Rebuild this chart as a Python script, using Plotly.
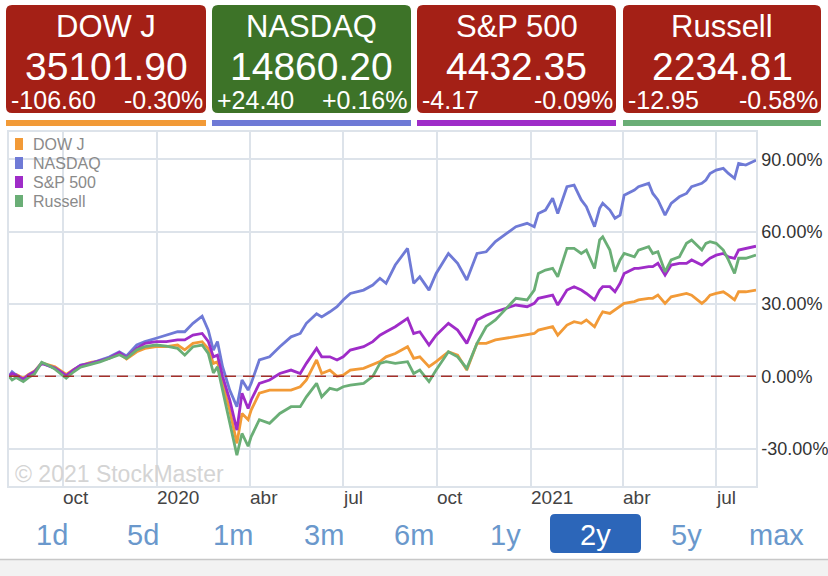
# 2y comparison of the four US indices, StockMaster style
import plotly.graph_objects as go

FONT = "Liberation Sans, Arial, sans-serif"

# header cards
names = ["DOW J", "NASDAQ", "S&P 500", "Russell"]
last = ["35101.90", "14860.20", "4432.35", "2234.81"]
chg = ["-106.60", "+24.40", "-4.17", "-12.95"]
pct = ["-0.30%", "+0.16%", "-0.09%", "-0.58%"]
colors = ["#f29a37", "#6f7ad6", "#9f2cc8", "#6aae76"]

# % change since 2019-08-09
dates = [
    "2019-08-09", "2019-08-12", "2019-08-16", "2019-08-23", "2019-08-28", "2019-09-03", "2019-09-10", "2019-09-17", "2019-09-23", "2019-09-30",
    "2019-10-04", "2019-10-11", "2019-10-18", "2019-10-28", "2019-11-06", "2019-11-15", "2019-11-25", "2019-12-02", "2019-12-12", "2019-12-20",
    "2019-12-31", "2020-01-10", "2020-01-21", "2020-01-28", "2020-02-05", "2020-02-14", "2020-02-20", "2020-02-25", "2020-02-29", "2020-03-05",
    "2020-03-12", "2020-03-19", "2020-03-24", "2020-03-30", "2020-04-02", "2020-04-10", "2020-04-20", "2020-04-30", "2020-05-11", "2020-05-20",
    "2020-05-26", "2020-06-05", "2020-06-10", "2020-06-18", "2020-06-25", "2020-07-01", "2020-07-08", "2020-07-21", "2020-07-30", "2020-08-06",
    "2020-08-12", "2020-08-21", "2020-09-02", "2020-09-08", "2020-09-14", "2020-09-23", "2020-09-30", "2020-10-12", "2020-10-21", "2020-10-30",
    "2020-11-09", "2020-11-18", "2020-11-27", "2020-12-08", "2020-12-17", "2020-12-28", "2021-01-04", "2021-01-08", "2021-01-15", "2021-01-22",
    "2021-01-27", "2021-02-05", "2021-02-12", "2021-02-19", "2021-02-24", "2021-03-04", "2021-03-09", "2021-03-12", "2021-03-19", "2021-03-24",
    "2021-03-29", "2021-04-02", "2021-04-12", "2021-04-16", "2021-04-26", "2021-04-30", "2021-05-05", "2021-05-12", "2021-05-18", "2021-05-26",
    "2021-06-02", "2021-06-07", "2021-06-17", "2021-06-21", "2021-06-25", "2021-07-01", "2021-07-08", "2021-07-13", "2021-07-19", "2021-07-23",
    "2021-07-30", "2021-08-09",
]
dow = [
    0, 0.8, 0.8, -0.8, 0.8, 2.2, 5.6, 4.6, 4.0, 2.0,
    0.8, 2.8, 4.5, 5.8, 6.4, 7.5, 9.5, 7.2, 10.2, 11.6,
    12.3, 12.3, 13.0, 11.0, 13.7, 14.4, 11.5, 5.4, 6.0, -2.8,
    -14.0, -27.8, -15.4, -18.0, -14.0, -7.0, -5.7, -5.7, -5.7, -4.3,
    -1.5, 6.8, 1.2, 2.6, 0.0, 0.5, 2.6, 3.3, 4.7, 6.1,
    8.1, 9.5, 12.3, 7.5, 8.1, 4.0, 6.1, 10.2, 8.8, 2.6,
    13.7, 13.7, 15.1, 15.8, 16.4, 17.1, 17.8, 19.2, 19.9, 20.6,
    17.1, 21.3, 22.7, 22.0, 23.4, 20.6, 24.7, 26.8, 26.1, 27.5,
    28.9, 30.3, 31.0, 31.7, 32.4, 32.4, 33.7, 30.3, 33.0, 33.7,
    34.4, 33.7, 30.3, 31.7, 33.7, 34.4, 35.1, 33.7, 31.7, 35.1,
    35.1, 35.8,
]
nasdaq = [
    0, 1.9, 0.5, -1.5, 0.5, 1.9, 5.6, 4.3, 3.3, 1.2,
    -0.2, 2.6, 4.7, 5.4, 6.8, 8.0, 10.2, 8.5, 13.0, 14.4,
    15.8, 17.1, 18.5, 18.5, 22.0, 25.0, 19.2, 10.9, 14.4, 4.0,
    -5.7, -12.6, -1.5, -5.7, -2.9, 6.8, 8.1, 12.3, 16.4, 17.8,
    22.0, 26.0, 24.7, 26.8, 28.9, 31.7, 34.4, 35.8, 37.9, 40.7,
    38.6, 46.2, 53.1, 38.6, 41.3, 35.8, 42.7, 51.0, 46.9, 40.0,
    51.0, 51.7, 55.9, 59.3, 62.1, 63.5, 62.1, 67.6, 69.0, 73.9,
    67.6, 78.7, 79.4, 73.2, 70.4, 62.1, 69.7, 71.8, 69.0, 65.6,
    66.9, 75.2, 77.3, 78.7, 80.1, 75.9, 73.2, 66.9, 71.8, 74.5,
    75.9, 78.7, 80.1, 81.5, 84.2, 85.6, 86.3, 84.2, 82.2, 88.4,
    87.7, 89.7,
]
sp500 = [
    0, 1.2, 0.5, -1.2, 0.5, 1.9, 5.4, 4.3, 3.5, 1.5,
    0.3, 2.6, 4.5, 5.4, 6.5, 7.5, 9.8, 7.8, 11.6, 13.7,
    14.4, 14.4, 15.1, 15.1, 17.1, 17.8, 14.5, 8.1, 8.8, 0.0,
    -9.8, -22.3, -7.0, -13.3, -9.8, -2.9, -1.5, 1.2, 2.6, 1.2,
    5.4, 11.6, 8.1, 8.1, 6.8, 8.1, 10.9, 12.3, 14.4, 17.1,
    18.5, 20.6, 24.1, 17.8, 18.5, 13.0, 17.1, 22.0, 19.2, 13.7,
    23.4, 25.4, 26.8, 28.2, 29.6, 28.9, 30.3, 32.4, 33.0, 33.7,
    29.6, 35.8, 37.2, 35.8, 34.4, 31.7, 35.8, 37.2, 37.2, 35.1,
    38.6, 42.7, 44.8, 44.8, 45.5, 45.5, 46.9, 42.0, 46.2, 46.9,
    46.9, 48.3, 46.2, 47.6, 49.0, 50.3, 51.0, 49.6, 49.0, 52.4,
    53.1, 54.0,
]
russell = [
    0, -1.5, -0.5, -2.2, -0.5, 1.0, 5.8, 4.5, 3.0, 0.8,
    -0.8, 1.8, 3.8, 5.0, 6.0, 7.4, 9.0, 7.5, 11.0, 12.3,
    13.0, 12.5, 11.6, 8.8, 12.3, 13.0, 9.5, 1.4, 4.0, -5.7,
    -19.5, -32.7, -23.7, -29.0, -25.0, -18.0, -19.5, -15.4, -12.6, -12.6,
    -8.5, -2.9, -8.5, -5.0, -5.7, -4.3, -3.6, -2.9, 0.0, 5.4,
    6.1, 5.4, 6.1, 1.2, 2.6, -2.2, 2.6, 10.2, 8.1, 3.3,
    13.7, 20.6, 23.4, 28.2, 32.4, 31.7, 35.8, 42.7, 44.1, 44.8,
    41.3, 53.1, 53.1, 51.0, 52.4, 44.8, 56.6, 57.9, 52.4, 43.4,
    48.3, 51.0, 49.6, 52.4, 53.8, 51.0, 51.7, 43.4, 48.3, 49.6,
    55.2, 56.6, 52.4, 55.2, 55.9, 55.2, 52.4, 48.3, 42.7, 49.0,
    49.0, 50.3,
]
series = [dow, nasdaq, sp500, russell]

xtick_dates = ["2019-10-01", "2020-01-01", "2020-04-01", "2020-07-01",
               "2020-10-01", "2021-01-01", "2021-04-01", "2021-07-01"]
xtick_text = ["oct", "2020", "abr", "jul", "oct", "2021", "abr", "jul"]
ytick_vals = [-30, 0, 30, 60, 90]
ranges = ["1d", "5d", "1m", "3m", "6m", "1y", "2y", "5y", "max"]
SELECTED = "2y"

GRID = "#dde3ea"
W, H = 828, 576
L, R, T, B = 9, 72, 132, 90
PW, PH = W - L - R, H - T - B


def px(x):
    return (x - L) / PW


def py(y):
    return (H - B - y) / PH


def rbox(x0, y0, x1, y1, r):
    # rounded rectangle given in page pixels, returned as paper-space path
    a, b = px(x0), px(x1)
    t, u = py(y0), py(y1)
    rx, ry = r / PW, r / PH
    return (f"M{a+rx},{t} L{b-rx},{t} Q{b},{t} {b},{t-ry} L{b},{u+ry} Q{b},{u} {b-rx},{u} "
            f"L{a+rx},{u} Q{a},{u} {a},{u+ry} L{a},{t-ry} Q{a},{t} {a+rx},{t} Z")


fig = go.Figure()

for n, s, c in zip(names, series, colors):
    fig.add_trace(go.Scatter(x=dates, y=s, mode="lines", name=n, showlegend=False,
                             line=dict(color=c, width=2.8), hoverinfo="skip"))

shapes = []
annotations = []

# zero line
shapes.append(dict(type="line", xref="paper", x0=0, x1=1, yref="y", y0=0, y1=0,
                   line=dict(color="#a4302a", width=1.5, dash="11px,7px")))

# legend block, top-left inside the plot (squares + grey names)
for i, (n, c) in enumerate(zip(names, colors)):
    yc = 144 + i * 19
    shapes.append(dict(type="rect", xref="paper", yref="paper", x0=px(15), x1=px(23),
                       y0=py(yc + 6), y1=py(yc - 6), fillcolor=c, line=dict(width=0)))
    annotations.append(dict(text=n, x=px(31), y=py(yc), xanchor="left",
                            font=dict(size=16, color="#8a8a8a")))

# cards
cards = [(6, 206), (212, 411), (417, 616), (623, 821)]
for (x0, x1), n, v, ch, pc, c in zip(cards, names, last, chg, pct, colors):
    bg = "#a42016" if ch.startswith("-") else "#3d7328"
    shapes.append(dict(type="path", xref="paper", yref="paper", path=rbox(x0, 5, x1, 113, 6),
                       fillcolor=bg, line=dict(width=0), layer="below"))
    shapes.append(dict(type="rect", xref="paper", yref="paper", x0=px(x0), x1=px(x1),
                       y0=py(126), y1=py(120), fillcolor=c, line=dict(width=0)))
    cx = px((x0 + x1) / 2)
    annotations += [
        dict(text=n, x=cx, y=py(26), xanchor="center", font=dict(size=31, color="white")),
        dict(text=v, x=cx, y=py(66), xanchor="center", font=dict(size=39, color="white")),
        dict(text=ch, x=px(x0 + 3), y=py(100), xanchor="left", font=dict(size=25, color="white")),
        dict(text=pc, x=px(x1 - 1), y=py(100), xanchor="right", font=dict(size=25, color="white")),
    ]

# x tick labels sit to the right of their grid line
for d, t in zip(xtick_dates, xtick_text):
    annotations.append(dict(text=t, x=d, xref="x", y=py(498), xanchor="left", xshift=-2,
                            font=dict(size=19, color="#444")))

annotations.append(dict(text="© 2021 StockMaster", x=px(13), y=py(474), xanchor="left",
                        font=dict(size=23, color="#d4d4d4")))

# range selector row
shapes.append(dict(type="path", xref="paper", yref="paper", path=rbox(550, 514, 641, 553, 5),
                   fillcolor="#2c66b9", line=dict(width=0)))
for i, r in enumerate(ranges):
    sel = r == SELECTED
    annotations.append(dict(text=r, x=px(52 + i * 90.6), y=py(535), xanchor="center",
                            font=dict(size=29, color="white" if sel else "#6a98cc")))

shapes.append(dict(type="rect", xref="paper", yref="paper", x0=px(0), x1=px(W),
                   y0=py(H + 2), y1=py(560), fillcolor="#f2f2f2", line=dict(width=0)))
shapes.append(dict(type="line", xref="paper", yref="paper", x0=px(0), x1=px(W),
                   y0=py(559.5), y1=py(559.5), line=dict(color="#c8c8c8", width=1.5)))

for a in annotations:
    a.setdefault("xref", "paper")
    a.setdefault("yref", "paper")
    a.setdefault("yanchor", "middle")
    a["showarrow"] = False

fig.update_layout(
    width=W, height=H,
    margin=dict(l=L, r=R, t=T, b=B, autoexpand=False),
    paper_bgcolor="white", plot_bgcolor="white",
    font=dict(family=FONT),
    shapes=shapes, annotations=annotations,
    showlegend=False,
    xaxis=dict(range=["2019-08-09", "2021-08-09"], tickvals=xtick_dates, showticklabels=False,
               showgrid=True, gridcolor=GRID, gridwidth=1.5, zeroline=False, automargin=False,
               showline=True, mirror=True, linecolor=GRID, linewidth=1.5),
    yaxis=dict(range=[-45.5, 101.4], side="right", tickvals=ytick_vals,
               ticktext=[f"{v:.2f}%" for v in ytick_vals],
               tickfont=dict(size=18, color="#333"), automargin=False,
               showgrid=True, gridcolor=GRID, gridwidth=1.5, zeroline=False,
               showline=True, mirror=True, linecolor=GRID, linewidth=1.5),
)

# page body has an 8px default margin; drop it so the figure sits at 0,0
fig.write_html("out.html", config={"displayModeBar": False},
               post_script="document.body.style.margin='0px';")
